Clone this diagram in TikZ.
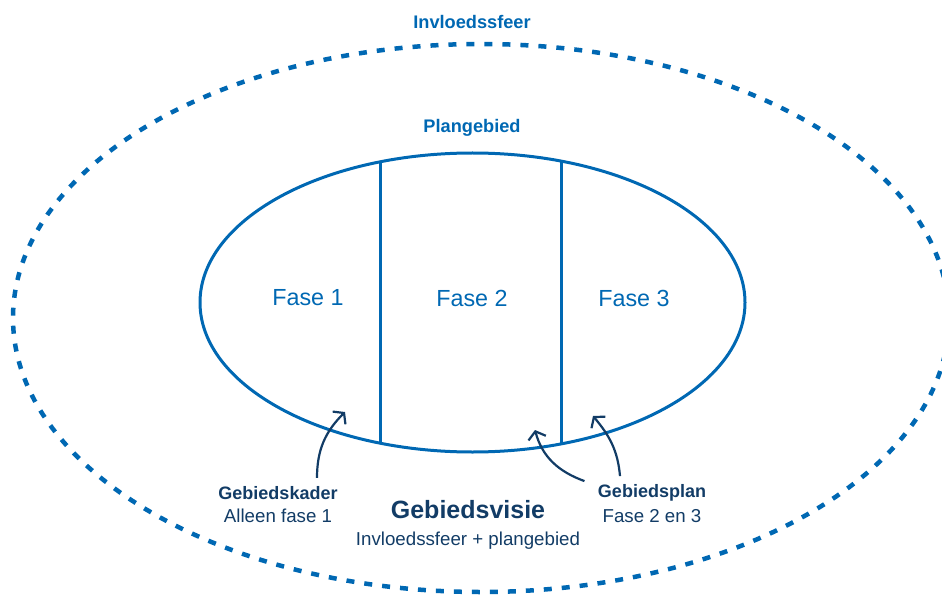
\documentclass[tikz,border=0pt]{standalone}
\usepackage{fontspec}
\setmainfont{Liberation Sans}
\usetikzlibrary{arrows.meta}
\definecolor{zoneblue}{HTML}{0068B3}
\definecolor{navy}{HTML}{123C66}
\begin{document}
\begin{tikzpicture}[x=1pt,y=-1pt,
  zone/.style={draw=zoneblue, line width=3pt},
  sphere/.style={draw=zoneblue, line width=4.5pt, dash pattern=on 8pt off 10pt},
  zonetitle/.style={text=zoneblue, font=\bfseries\fontsize{18.2}{21}\selectfont},
  phase/.style={text=zoneblue, font=\fontsize{23.3}{27}\selectfont},
  docname/.style={text=navy, font=\bfseries\fontsize{18}{21}\selectfont, align=center},
  docsub/.style={text=navy, font=\fontsize{18.7}{22}\selectfont, align=center},
  pointer/.style={draw=navy, line width=2.2pt, -{Straight Barb[length=7pt,width=18pt,line width=2.2pt]}}]
  \useasboundingbox (0,0) rectangle (942,596);
  \clip (0,0) rectangle (942,596);

  % sphere of influence
  \draw[sphere] (481,318) ellipse [x radius=468, y radius=274];
  \node[zonetitle] (sfeer) at (472,22) {Invloedssfeer};

  % plan area split into three phases
  \begin{scope}
    \clip (472.5,302.5) ellipse [x radius=272.5, y radius=149.5];
    \draw[zone] (380,100) -- (380,500);
    \draw[zone] (561,100) -- (561,500);
  \end{scope}
  \draw[zone] (472.5,302.5) ellipse [x radius=272.5, y radius=149.5];
  \node[zonetitle] (plan) at (472,128) {Plangebied};

  \node[phase] (f1) at (308,298) {Fase 1};
  \node[phase] (f2) at (472,298) {Fase 2};
  \node[phase] (f3) at (634,298) {Fase 3};

  % documents
  \node[docname] (kader) at (278,493) {Gebiedskader};
  \node[docsub] (kadersub) at (278,516) {Alleen fase 1};
  \node[text=navy, font=\bfseries\fontsize{25}{29}\selectfont] (visie) at (468,510) {Gebiedsvisie};
  \node[docsub] (visiesub) at (468,541) {Invloedssfeer + plangebied};
  \node[docname] (gplan) at (652,493) {Gebiedsplan};
  \node[docsub] (gplansub) at (652,516) {Fase 2 en 3};

  \coordinate (tipA) at (345,412);
  \coordinate (tipB) at (535,430);
  \coordinate (tipC) at (593,416);
  \draw[pointer] (kader.north -| 317,0) ++(0,-5) to[out=90,in=-135] (tipA);
  \draw[pointer] (gplan.north west) ++(-10,0) to[out=160,in=-75] (tipB);
  \draw[pointer] (gplan.north -| 620,0) ++(0,-5) to[out=95,in=-50] (tipC);
\end{tikzpicture}
\end{document}
